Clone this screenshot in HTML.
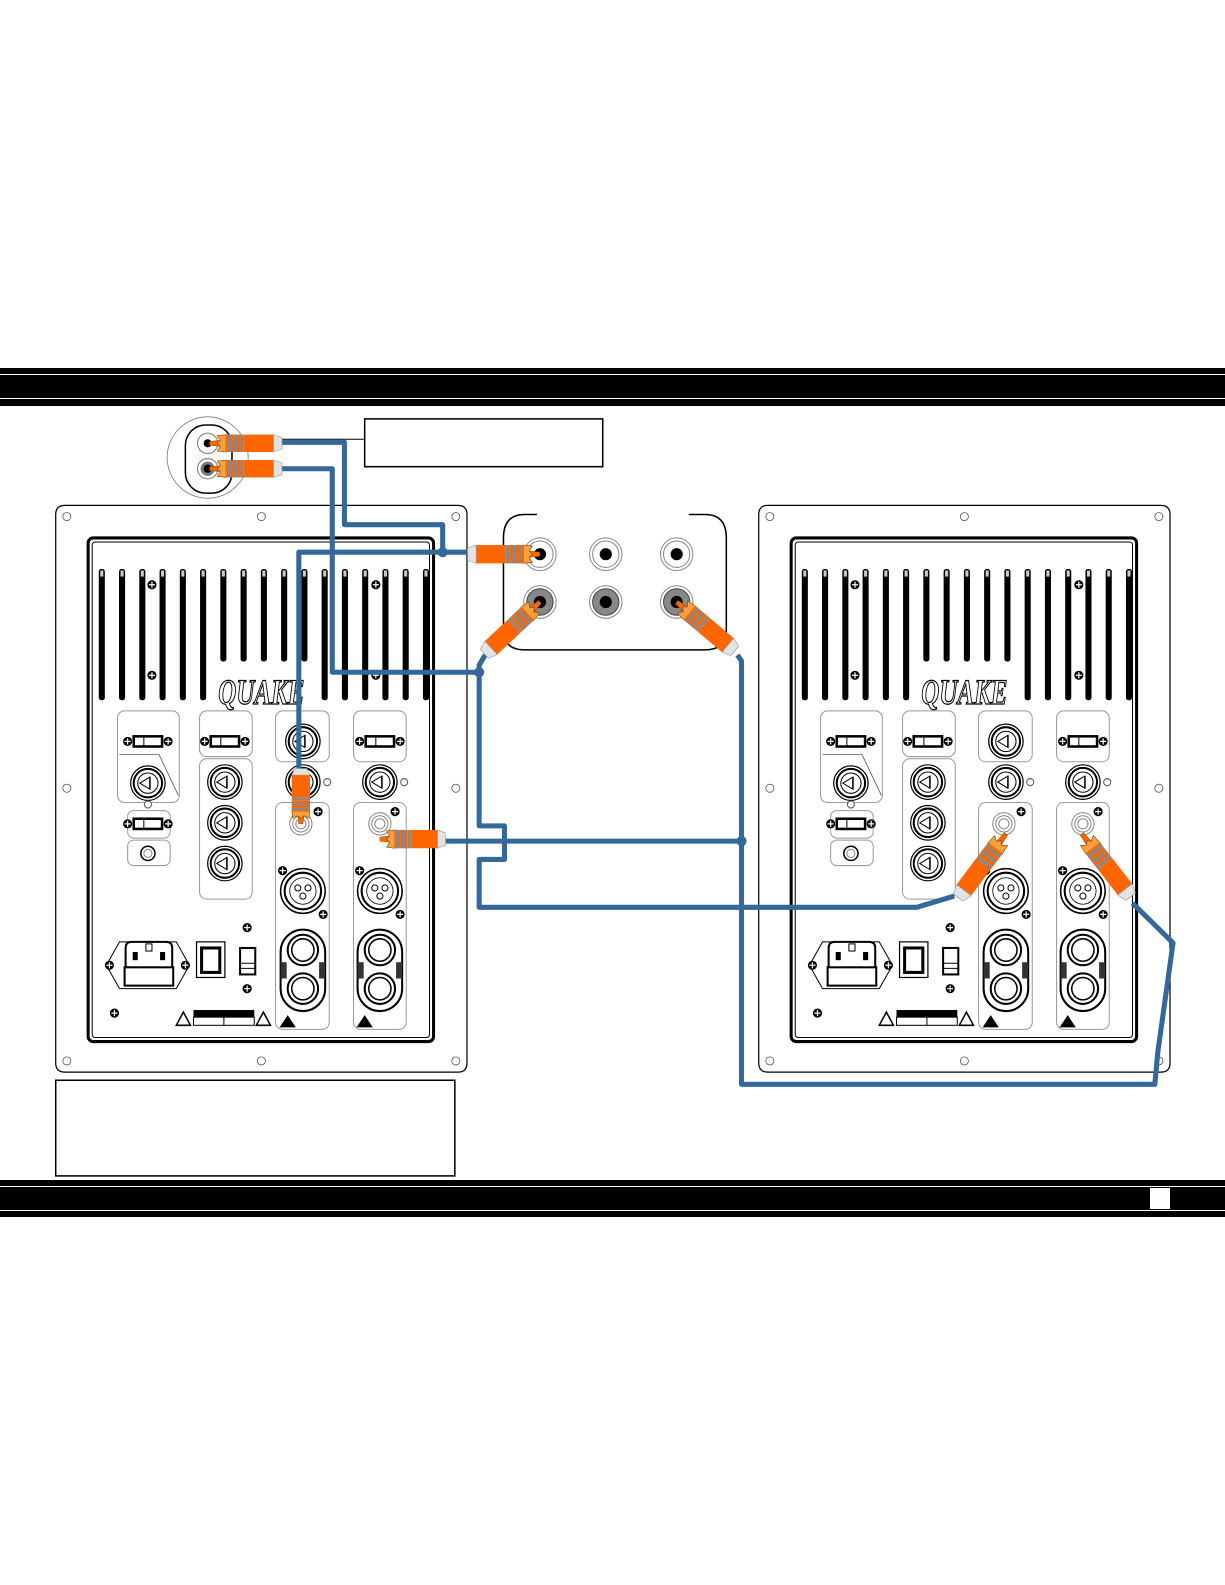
<!DOCTYPE html>
<html><head><meta charset="utf-8"><style>
html,body{margin:0;padding:0;background:#fff;}
svg{display:block;}
</style></head><body>
<svg width="1225" height="1585" viewBox="0 0 1225 1585" xmlns="http://www.w3.org/2000/svg">
<defs>
 <g id="screw"><circle r="4.5" fill="#000"/><path d="M-3 0H3M0 -3V3" stroke="#fff" stroke-width="1.2"/></g>
 <g id="hole"><circle r="4" fill="#fff" stroke="#555" stroke-width="0.8"/></g>
 <g id="knob"><circle r="17" fill="#fff" stroke="#000" stroke-width="1.2"/><circle r="14" fill="none" stroke="#000" stroke-width="2"/><circle r="10" fill="none" stroke="#000" stroke-width="1"/><path d="M-8 0L2 -6V6Z" fill="#fff" stroke="#000" stroke-width="1"/><path d="M2 -6V6" stroke="#000" stroke-width="1.5"/></g>
 <g id="fuse"><use href="#screw" x="-20"/><use href="#screw" x="20"/><rect x="-14" y="-5" width="28" height="10" fill="#fff" stroke="#000" stroke-width="2.5"/><path d="M-4 -5V5" stroke="#000"/></g>
 <g id="rcajack"><circle r="11" fill="#fff" stroke="#888" stroke-width="1"/><circle r="8" fill="none" stroke="#888" stroke-width="1"/><circle r="5" fill="none" stroke="#888"/></g>
 <g id="xlr"><circle r="22" fill="#fff" stroke="#000" stroke-width="1.5"/><circle r="18" fill="none" stroke="#000" stroke-width="2"/><circle r="13" fill="none" stroke="#000" stroke-width="0.8"/><circle cx="-5" cy="-3" r="3" fill="#fff" stroke="#000"/><circle cx="5" cy="-3" r="3" fill="#fff" stroke="#000"/><circle cx="0" cy="5" r="3" fill="#fff" stroke="#000"/></g>
 <g id="combo"><rect x="-22" y="-32" width="44" height="80" rx="22" fill="#fff" stroke="#000" stroke-width="2"/><circle cy="-12" r="15" fill="#fff" stroke="#000" stroke-width="2"/><circle cy="-12" r="11" fill="none" stroke="#000" stroke-width="1.5"/><circle cy="26" r="15" fill="#fff" stroke="#000" stroke-width="2"/><circle cy="26" r="11" fill="none" stroke="#000" stroke-width="1.5"/><rect x="-22" y="0" width="6" height="16" fill="#333"/><rect x="16" y="0" width="6" height="16" fill="#333"/></g>
 <g id="plug">
  <path d="M0 -2L10 -3L10 3L0 2Z" fill="#f60" stroke="#8a4b00" stroke-width="0.5"/>
  <path d="M7 -8L16 -9L16 9L7 8L10 3L7 0L10 -3Z" fill="#f7a040" stroke="#7a4a00" stroke-width="0.6"/>
  <rect x="15" y="-9" width="14" height="18" fill="#f60"/>
  <rect x="17" y="-9" width="3" height="18" fill="#888"/>
  <rect x="23" y="-9" width="3" height="18" fill="#888"/>
  <rect x="29" y="-9" width="3" height="18" fill="#888"/>
  <rect x="32" y="-9" width="28" height="18" fill="#f60"/>
  <path d="M60 -9L68 -6L68 6L60 9Z" fill="#e3e3e3" stroke="#999" stroke-width="0.6"/>
 </g>
 <g id="panel">
  <path d="M64 503H452Q461 503 461 512V1051Q461 1060 452 1060H64Q55 1060 55 1051V512Q55 503 64 503Z" fill="#fff" stroke="#000" stroke-width="1.2"/>
  <rect x="87" y="535" width="341" height="495" rx="5" fill="#fff" stroke="#000" stroke-width="3"/>
  <rect x="91" y="539" width="333" height="487" rx="3" fill="none" stroke="#000" stroke-width="1"/>
  <use href="#hole" x="66" y="514"/><use href="#hole" x="258" y="514"/><use href="#hole" x="450" y="514"/>
  <use href="#hole" x="66" y="781"/><use href="#hole" x="450" y="781"/>
  <use href="#hole" x="66" y="1049"/><use href="#hole" x="258" y="1049"/><use href="#hole" x="450" y="1049"/>
  <g fill="#000" stroke="#000">
   <rect x="98" y="566" width="5" height="128" rx="2"/><rect x="118" y="566" width="5" height="128" rx="2"/>
   <rect x="138" y="566" width="5" height="128" rx="2"/><rect x="158" y="566" width="5" height="128" rx="2"/>
   <rect x="178" y="566" width="5" height="128" rx="2"/><rect x="198" y="566" width="5" height="128" rx="2"/>
   <rect x="218" y="566" width="5" height="90" rx="2"/><rect x="238" y="566" width="5" height="90" rx="2"/>
   <rect x="258" y="566" width="5" height="90" rx="2"/><rect x="278" y="566" width="5" height="90" rx="2"/>
   <rect x="298" y="566" width="5" height="90" rx="2"/>
   <rect x="318" y="566" width="5" height="128" rx="2"/><rect x="338" y="566" width="5" height="128" rx="2"/>
   <rect x="358" y="566" width="5" height="128" rx="2"/><rect x="378" y="566" width="5" height="128" rx="2"/>
   <rect x="398" y="566" width="5" height="128" rx="2"/><rect x="418" y="566" width="5" height="128" rx="2"/>
  </g>
  <g fill="#ccc"><rect x="99" y="567" width="3" height="6"/><rect x="119" y="567" width="3" height="6"/><rect x="139" y="567" width="3" height="6"/><rect x="159" y="567" width="3" height="6"/><rect x="179" y="567" width="3" height="6"/><rect x="199" y="567" width="3" height="6"/><rect x="219" y="567" width="3" height="6"/><rect x="239" y="567" width="3" height="6"/><rect x="259" y="567" width="3" height="6"/><rect x="279" y="567" width="3" height="6"/><rect x="299" y="567" width="3" height="6"/><rect x="319" y="567" width="3" height="6"/><rect x="339" y="567" width="3" height="6"/><rect x="359" y="567" width="3" height="6"/><rect x="379" y="567" width="3" height="6"/><rect x="399" y="567" width="3" height="6"/><rect x="419" y="567" width="3" height="6"/></g>
  <use href="#screw" x="150" y="581"/><use href="#screw" x="150" y="670"/><use href="#screw" x="371" y="581"/><use href="#screw" x="371" y="670"/>
  <rect x="212" y="660" width="92" height="40" fill="#fff"/>
  <text x="258" y="698" font-family="Liberation Serif, serif" font-style="italic" font-weight="bold" font-size="26" fill="#fff" stroke="#000" stroke-width="0.9" text-anchor="middle" transform="translate(258 698) scale(0.95 1.35) translate(-258 -698)">QUAKE</text>
  <g fill="#fff" stroke="#999" stroke-width="1">
   <rect x="116" y="705" width="61" height="90" rx="7"/>
   <rect x="197" y="705" width="52" height="45" rx="7"/>
   <rect x="197" y="752" width="52" height="138" rx="7"/>
   <rect x="272" y="705" width="53" height="50" rx="7"/>
   <rect x="349" y="705" width="52" height="50" rx="7"/>
   <rect x="272" y="795" width="53" height="223" rx="7"/>
   <rect x="349" y="795" width="52" height="223" rx="7"/>
   <rect x="126" y="803" width="42" height="27" rx="6"/>
   <rect x="126" y="832" width="42" height="25" rx="6"/>
  </g>
  <path d="M118 748H157L176 788" fill="none" stroke="#555" stroke-width="0.8"/>
  <use href="#fuse" x="146" y="735"/><use href="#fuse" x="222" y="735"/><use href="#fuse" x="375" y="735"/><use href="#fuse" x="146" y="816"/>
  <use href="#knob" x="146" y="776"/><use href="#knob" x="222" y="775"/><use href="#knob" x="222" y="815"/><use href="#knob" x="222" y="855"/>
  <use href="#knob" x="299" y="735"/><use href="#knob" x="299" y="775"/><use href="#knob" x="375" y="775"/>
  <circle cx="323" cy="775" r="3.5" fill="#fff" stroke="#555"/><circle cx="399" cy="775" r="3.5" fill="#fff" stroke="#555"/>
  <circle cx="146" cy="797" r="3.5" fill="#fff" stroke="#555"/>
  <circle cx="146" cy="845" r="7" fill="#fff" stroke="#000" stroke-width="1.5"/><circle cx="146" cy="845" r="4" fill="none" stroke="#888"/>
  <use href="#rcajack" x="297" y="816"/><use href="#rcajack" x="375" y="816"/>
  <use href="#screw" x="314" y="804"/><use href="#screw" x="390" y="804"/>
  <use href="#screw" x="279" y="862"/><use href="#screw" x="355" y="862"/><use href="#screw" x="319" y="905"/><use href="#screw" x="395" y="905"/>
  <use href="#xlr" x="299" y="882"/><use href="#xlr" x="375" y="882"/>
  <use href="#combo" x="299" y="952"/><use href="#combo" x="375" y="952"/>
  <path d="M276 1016L284 1004L292 1016Z" fill="#000"/><path d="M352 1016L360 1004L368 1016Z" fill="#000"/>
  <use href="#screw" x="244" y="918"/><use href="#screw" x="244" y="978"/><use href="#screw" x="113" y="1002"/>
  <path d="M118 932H174L187 955L174 978H118L105 955Z" fill="#fff" stroke="#000" stroke-width="1"/>
  <use href="#screw" x="108" y="955"/><use href="#screw" x="183" y="955"/>
  <path d="M124 938Q124 932 130 932H164Q170 932 170 938V956L162 962H132L124 956Z" fill="#fff" stroke="#000" stroke-width="2"/>
  <rect x="123" y="957" width="48" height="18" fill="#fff" stroke="#000" stroke-width="2"/>
  <rect x="131" y="942" width="5" height="8" fill="#000"/><rect x="158" y="942" width="5" height="8" fill="#000"/><rect x="144" y="934" width="6" height="7" fill="#fff" stroke="#000"/>
  <rect x="194" y="932" width="28" height="35" fill="#fff" stroke="#000" stroke-width="1.2"/>
  <rect x="199" y="938" width="18" height="24" fill="#fff" stroke="#000" stroke-width="3"/>
  <rect x="237" y="938" width="15" height="26" fill="#fff" stroke="#000" stroke-width="2"/><path d="M237 953H252M237 958H252" stroke="#000"/>
  <rect x="191" y="999" width="60" height="7" fill="#000"/><rect x="191" y="1006" width="60" height="8" fill="#fff" stroke="#000"/><path d="M221 1006V1014" stroke="#000"/>
  <path d="M174 1014L181 1001L188 1014Z" fill="#fff" stroke="#000" stroke-width="1.5"/>
  <path d="M253 1014L260 1001L267 1014Z" fill="#fff" stroke="#000" stroke-width="1.5"/>
 </g>
</defs>

<rect x="0" y="368" width="1225" height="6" fill="#000"/>
<rect x="0" y="375" width="1225" height="23" fill="#000"/>
<rect x="0" y="399" width="1225" height="7" fill="#000"/>
<rect x="0" y="1180" width="1225" height="6" fill="#000"/>
<rect x="0" y="1187" width="1225" height="23" fill="#000"/>
<rect x="0" y="1211" width="1225" height="6" fill="#000"/>
<rect x="1150" y="1188" width="20" height="21" fill="#fff"/>

<g transform="matrix(1.013 0 0 1.0175 0 -6.44)">
 <use href="#panel"/>
 <use href="#panel" x="694"/>
 <rect x="360" y="418" width="235" height="47" fill="#fff" stroke="#000" stroke-width="1.5"/>
 <rect x="55" y="1068" width="394" height="94" fill="#fff" stroke="#000" stroke-width="1.5"/>
 <path d="M228 438H360" stroke="#000" stroke-width="1"/>
 <circle cx="205" cy="456" r="40" fill="#fff" stroke="#777" stroke-width="0.8"/>
 <rect x="183" y="424" width="46" height="67" rx="20" fill="none" stroke="#000" stroke-width="1.5"/>
 <circle cx="205" cy="442" r="10" fill="#fff" stroke="#777"/><circle cx="205" cy="442" r="4" fill="#000"/>
 <circle cx="205" cy="467" r="10" fill="#fff" stroke="#777"/><circle cx="205" cy="467" r="7" fill="#777"/><circle cx="205" cy="467" r="4" fill="#000"/>
 <path d="M530 512H518Q497 512 497 535V625Q497 645 518 645H696Q717 645 717 625V535Q717 512 696 512H680" fill="#fff" stroke="#000" stroke-width="1.5"/>
 <g>
  <circle cx="533" cy="551" r="16" fill="#fff" stroke="#888"/><circle cx="533" cy="551" r="13" fill="none" stroke="#888"/><circle cx="533" cy="551" r="6" fill="#000"/>
  <circle cx="598" cy="551" r="16" fill="#fff" stroke="#888"/><circle cx="598" cy="551" r="13" fill="none" stroke="#888"/><circle cx="598" cy="551" r="6" fill="#000"/>
  <circle cx="668" cy="551" r="16" fill="#fff" stroke="#888"/><circle cx="668" cy="551" r="13" fill="none" stroke="#888"/><circle cx="668" cy="551" r="6" fill="#000"/>
  <circle cx="533" cy="598" r="16" fill="#fff" stroke="#888"/><circle cx="533" cy="598" r="13" fill="#888" stroke="#444"/><circle cx="533" cy="598" r="6" fill="#000"/>
  <circle cx="598" cy="598" r="16" fill="#fff" stroke="#888"/><circle cx="598" cy="598" r="13" fill="#888" stroke="#444"/><circle cx="598" cy="598" r="6" fill="#000"/>
  <circle cx="668" cy="598" r="16" fill="#fff" stroke="#888"/><circle cx="668" cy="598" r="13" fill="#888" stroke="#444"/><circle cx="668" cy="598" r="6" fill="#000"/>
 </g>
 <g fill="none" stroke="#34679a" stroke-width="5" stroke-linejoin="round">
  <path d="M275 441H340V522H437V549H462"/>
  <path d="M295 768V549H437"/>
  <path d="M275 467H328V667H473"/>
  <path d="M479 650L473 660V818H498V851H473V898H905L942 887"/>
  <path d="M440 833H732"/>
  <path d="M728 650L732 656V1072H1140L1143 1040L1158 933L1118 894"/>
 </g>
 <g fill="#34679a"><circle cx="437" cy="549" r="5"/><circle cx="473" cy="667" r="5"/><circle cx="732" cy="833" r="5"/></g>
 <use href="#plug" transform="translate(207 442) scale(1.05 0.95)"/>
 <use href="#plug" transform="translate(207 467) scale(1.05 0.95)"/>
 <use href="#plug" transform="translate(533 551) rotate(180) scale(1.05 1)"/>
 <use href="#plug" transform="translate(533 598) rotate(137) scale(1.1 1)"/>
 <use href="#plug" transform="translate(668 598) rotate(40) scale(1.1 1)"/>
 <use href="#plug" transform="translate(297 816) rotate(-90) scale(0.8 1)"/>
 <use href="#plug" transform="translate(375 831) scale(0.95 1)"/>
 <use href="#plug" transform="translate(993 826) rotate(127) scale(1.15 1)"/>
 <use href="#plug" transform="translate(1068 826) rotate(52) scale(1.15 1)"/>
</g>
</svg>
</body></html>
